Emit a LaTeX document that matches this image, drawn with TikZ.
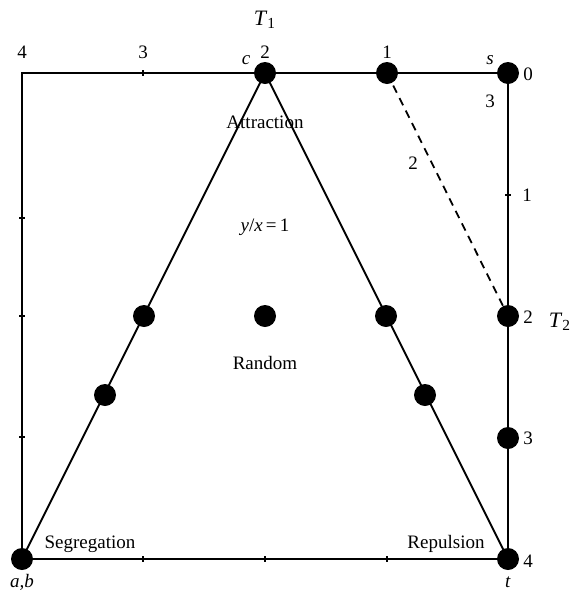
\documentclass[tikz,border=0pt]{standalone}
\usepackage{fontspec}
\setmainfont{Liberation Serif}
\begin{document}
\begin{tikzpicture}[x=0.5pt, y=-0.5pt, font=\fontsize{9.5}{11}\selectfont, line width=0.9pt]
  \useasboundingbox (0,0) rectangle (570,590);
  \tikzset{dot/.style={circle, fill=black, inner sep=0pt, minimum size=11pt},
    axislabel/.style={font=\fontsize{11}{13}\selectfont}}
  % Nodes
  \coordinate (tl) at (22,73);
  \node[dot] (c) at (265,73) {};
  \node[dot] (n1) at (387,73) {};
  \node[dot] (s) at (508,73) {};
  \node[dot] (m2) at (508,316) {};
  \node[dot] (m3) at (508,438) {};
  \node[dot] (t) at (508,559) {};
  \node[dot] (ab) at (22,559) {};
  \node[dot] (mid) at (265,316) {};
  \node[dot] (l1) at (105,395) {};
  \node[dot] (l2) at (144,316) {};
  \node[dot] (r1) at (386,316) {};
  \node[dot] (r2) at (425,395) {};

  % Labels
  \node[axislabel] at (265,20) {\textit{T}\textsubscript{1}};
  \node at (22,52) {4};
  \node at (143,52) {3};
  \node at (265,52) {2};
  \node at (387,52) {1};
  \node at (246,60) {\textit{c}};
  \node at (490,60) {\textit{s}};
  \node at (528,74) {0};
  \node at (490,101) {3};
  \node at (413,163) {2};
  \node at (527,195) {1};
  \node at (528,317) {2};
  \node[axislabel] at (560,322) {\textit{T}\textsubscript{2}};
  \node at (528,438) {3};
  \node at (528,561) {4};
  \node at (22,582) {\textit{a,b}};
  \node at (508,582) {\textit{t}};
  \node at (265,122) {Attraction};
  \node at (265,227) {\textit{y}/\textit{x}\,=\,1};
  \node at (265,363) {Random};
  \node at (90,544) {Segregation};
  \node at (446,544) {Repulsion};

  % Edges
  \draw (ab.center) -- (tl) -- (s.center) -- (t.center) -- (ab.center);
  \draw (ab.center) -- (c.center) -- (t.center);
  \draw[dash pattern=on 4pt off 3pt] (n1.center) -- (m2.center);

  % Ticks
  \foreach \x in {143,265,387} {
    \draw (\x,70) -- (\x,76);
    \draw (\x,556) -- (\x,562);
  }
  \foreach \y in {218,316,437} \draw (19,\y) -- (25,\y);
  \draw (505,195) -- (511,195);
\end{tikzpicture}
\end{document}
